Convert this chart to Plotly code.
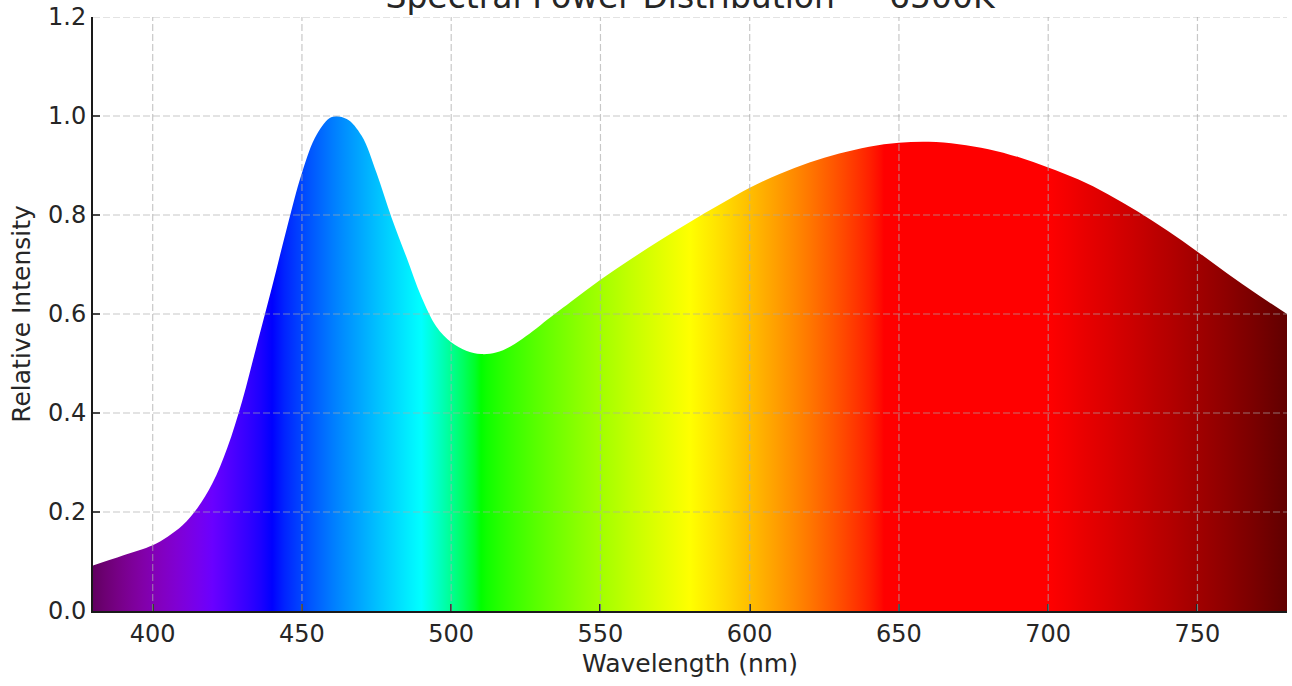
import plotly.graph_objects as go

# ---- data ----
WAVELENGTH_NM = [380, 390, 400, 405, 410, 415, 420, 425, 430, 435, 440, 445, 450, 455,
                 460, 465, 470, 475, 480, 485, 490, 495, 500, 505, 510, 515, 520, 525,
                 530, 540, 550, 560, 570, 580, 590, 600, 610, 620, 630, 640, 650, 660,
                 670, 680, 690, 700, 710, 720, 730, 740, 750, 760, 770, 780]
RELATIVE_INTENSITY = [0.092, 0.112, 0.133, 0.150, 0.173, 0.208, 0.258, 0.330, 0.425, 0.540,
                      0.655, 0.775, 0.885, 0.963, 0.998, 0.994, 0.960, 0.885, 0.795, 0.715,
                      0.635, 0.575, 0.543, 0.526, 0.519, 0.522, 0.535, 0.555, 0.578, 0.624,
                      0.669, 0.710, 0.749, 0.786, 0.821, 0.855, 0.883, 0.906, 0.924, 0.938,
                      0.946, 0.948, 0.943, 0.933, 0.917, 0.896, 0.872, 0.842, 0.807, 0.768,
                      0.726, 0.682, 0.640, 0.600]
X_TICKS = [400, 450, 500, 550, 600, 650, 700, 750]
Y_TICKS = [0.0, 0.2, 0.4, 0.6, 0.8, 1.0, 1.2]
TITLE = "Spectral Power Distribution — 6500K"
X_LABEL = "Wavelength (nm)"
Y_LABEL = "Relative Intensity"

WL_MIN, WL_MAX = 380, 780


# ---- styling: wavelength -> visible colour (used only for the fill gradient) ----
def wl_rgb(wl, gamma=0.8):
    if wl < 440:
        r, g, b = -(wl - 440) / 60.0, 0.0, 1.0
    elif wl < 490:
        r, g, b = 0.0, (wl - 440) / 50.0, 1.0
    elif wl < 510:
        r, g, b = 0.0, 1.0, -(wl - 510) / 20.0
    elif wl < 580:
        r, g, b = (wl - 510) / 70.0, 1.0, 0.0
    elif wl < 645:
        r, g, b = 1.0, -(wl - 645) / 65.0, 0.0
    else:
        r, g, b = 1.0, 0.0, 0.0
    if wl < 420:
        f = 0.3 + 0.7 * (wl - 380) / 40.0
    elif wl > 700:
        f = 0.3 + 0.7 * (780 - wl) / 80.0
    else:
        f = 1.0
    c = [int(round(255 * (v * f) ** gamma)) if v * f > 0 else 0 for v in (r, g, b)]
    return "rgb({},{},{})".format(*c)


stops = sorted(set(list(range(WL_MIN, WL_MAX + 1, 4)) + [420, 440, 490, 510, 580, 645, 700, 780]))
colorscale = [[(w - WL_MIN) / (WL_MAX - WL_MIN), wl_rgb(w)] for w in stops]

fig = go.Figure()
fig.add_trace(go.Scatter(
    x=WAVELENGTH_NM, y=RELATIVE_INTENSITY,
    mode="lines",
    line=dict(shape="spline", smoothing=1.0, width=0, color="rgba(0,0,0,0)"),
    fill="tozeroy",
    fillgradient=dict(type="horizontal", colorscale=colorscale, start=WL_MIN, stop=WL_MAX),
    hoverinfo="skip",
    showlegend=False,
))

grid_color = "rgba(170,170,170,0.65)"
shapes = []
for xv in X_TICKS:
    shapes.append(dict(type="line", xref="x", yref="paper", x0=xv, x1=xv, y0=0, y1=1,
                       line=dict(color=grid_color, width=1.2, dash="7px,3px"), layer="above"))
for yv in Y_TICKS[1:]:
    shapes.append(dict(type="line", xref="paper", yref="y", x0=0, x1=1, y0=yv, y1=yv,
                       line=dict(color=grid_color, width=1.2, dash="7px,3px"), layer="above"))

font_family = "DejaVu Sans"
text_color = "#262626"

fig.update_layout(
    width=1292, height=686,
    margin=dict(l=93, r=5, t=17, b=75, autoexpand=False),
    paper_bgcolor="white", plot_bgcolor="white",
    font=dict(family=font_family, color=text_color),
    title=dict(text=TITLE, x=0.5, xref="paper", y=1 - 8 / 686, yref="container",
               yanchor="bottom", xanchor="center", automargin=False,
               font=dict(size=33, family=font_family, color=text_color)),
    shapes=shapes,
    xaxis=dict(range=[WL_MIN, WL_MAX], tickvals=X_TICKS, showgrid=False, zeroline=False,
               showline=True, linecolor="#1a1a1a", linewidth=2, automargin=False,
               ticks="inside", ticklen=7, tickwidth=2, tickcolor="#1a1a1a",
               tickfont=dict(size=24), layer="above traces",
               title=dict(text=X_LABEL, font=dict(size=25), standoff=8)),
    yaxis=dict(range=[0, 1.2], tickvals=Y_TICKS, tickformat=".1f", showgrid=False,
               zeroline=False, showline=True, linecolor="#1a1a1a", linewidth=2,
               automargin=False,
               ticks="inside", ticklen=7, tickwidth=2, tickcolor="#1a1a1a",
               tickfont=dict(size=24), layer="above traces",
               title=dict(text=Y_LABEL, font=dict(size=25), standoff=10)),
)

# remove the default page margin so the figure sits at the window's top-left corner
fig.write_html("out.html", config={"displayModeBar": False},
               post_script="document.body.style.margin='0';")
